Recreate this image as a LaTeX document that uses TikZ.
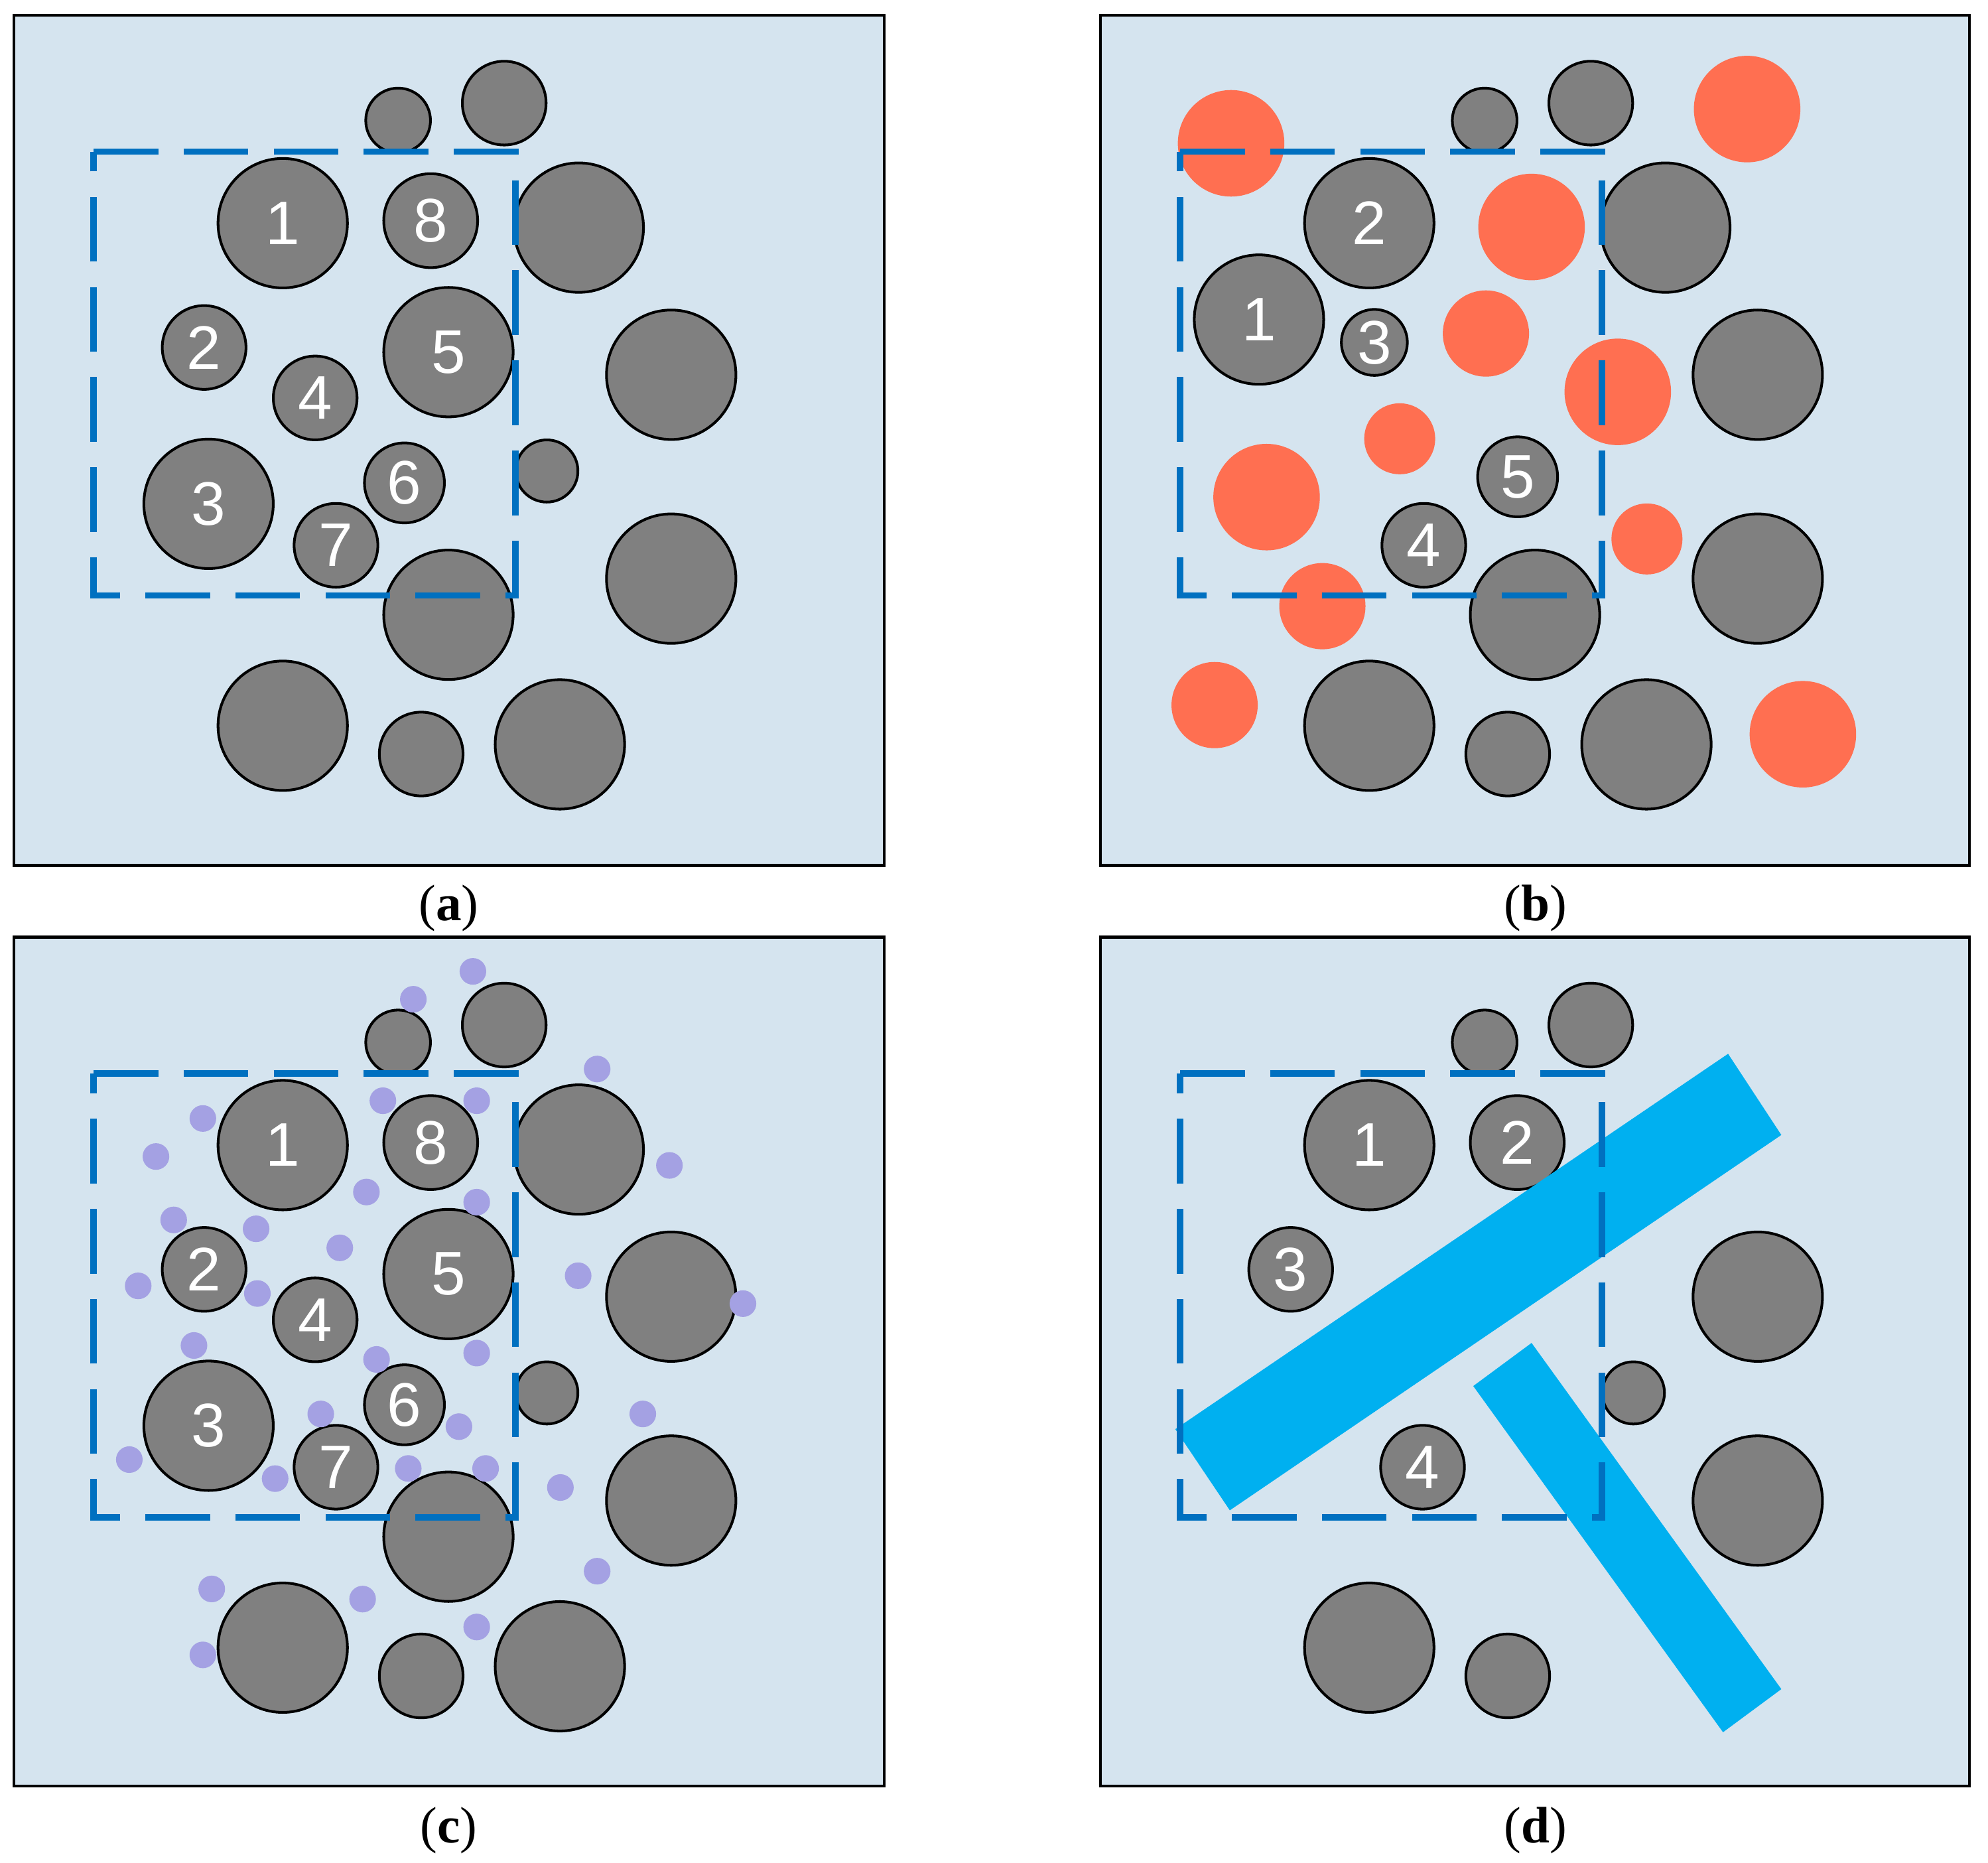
\documentclass[tikz,border=0pt]{standalone}
\usepackage{fontspec}
\setmainfont{Liberation Serif}
\newfontfamily\arialfont{Liberation Sans}
\definecolor{bgblue}{RGB}{213,228,239}
\definecolor{graingray}{RGB}{128,128,128}
\definecolor{redc}{RGB}{255,111,81}
\definecolor{dotc}{RGB}{164,161,227}
\definecolor{barc}{RGB}{0,176,240}
\definecolor{dashc}{RGB}{0,112,192}
\tikzset{
  panelbox/.style={draw=black, line width=0.65pt, fill=bgblue},
  grainsty/.style={circle, draw=black, line width=0.6pt, fill=graingray, inner sep=0pt,
    text=white, font=\arialfont\fontsize{13.8}{14}\selectfont},
  dashbox/.style={draw=dashc, line width=1.45pt, dash pattern=on 5.1mm off 2mm},
  redsty/.style={fill=redc},
  dotsty/.style={fill=dotc},
  barsty/.style={fill=barc},
  capsty/.style={anchor=base, font=\fontsize{11.5}{13}\selectfont, inner sep=0pt}
}
\newcommand\grain[5]{\node[grainsty, minimum size=#4*0.02cm] (#1) at (#2,#3) {#5};}
\newcommand\dashrect[1]{%
  \coordinate (#1tl) at (73.8,119.6);
  \coordinate (#1tr) at (406.5,119.6);
  \coordinate (#1br) at (406.5,469.6);
  \coordinate (#1bl) at (73.8,469.6);
  \draw[dashbox] (#1tl) -- (#1tr) -- (#1br) -- (#1bl) -- cycle;}
\newcommand\grainsA[1]{%
  \grain{#1st}{314}{95}{25.5}{}
  \grain{#1tp}{397.7}{81.3}{33}{}
  \grain{#1g1}{223}{176}{51}{1}
  \grain{#1g8}{339.7}{174}{37}{8}
  \grain{#1br}{456.5}{179.5}{51}{}
  \grain{#1g2}{161}{274}{33}{2}
  \grain{#1g5}{353.7}{277.7}{51}{5}
  \grain{#1g4}{248.6}{313.8}{33}{4}
  \grain{#1rr}{529.4}{295.5}{51}{}
  \grain{#1sm}{431.3}{371.4}{24.5}{}
  \grain{#1g6}{319}{380.8}{31.5}{6}
  \grain{#1g3}{164.5}{397.3}{51}{3}
  \grain{#1g7}{265}{430}{33}{7}
  \grain{#1rt}{529.4}{456.3}{51}{}
  \grain{#1bm}{353.7}{484.8}{51}{}
  \grain{#1bl}{223}{572.3}{51}{}
  \grain{#1bs}{332.2}{594.6}{33}{}
  \grain{#1bb}{441.6}{587}{51}{}}
\begin{document}
\begin{tikzpicture}[x=0.01cm, y=-0.01cm]
\useasboundingbox[fill=white] (0,0) rectangle (1568,1469);
% panels
\draw[panelbox] (11,12) rectangle (697.5,682.5);
\draw[panelbox] (868,12) rectangle (1553.5,682.5);
\draw[panelbox] (11,739) rectangle (697.5,1408.5);
\draw[panelbox] (868,739) rectangle (1553.5,1408.5);
% (a)
\grainsA{a}
\dashrect{a}
% (b)
\begin{scope}[shift={(857,0)}]
  \grain{bst}{314}{95}{25.5}{}
  \grain{btp}{397.7}{81.3}{33}{}
  \grain{bbr}{456.5}{179.5}{51}{}
  \grain{brr}{529.4}{295.5}{51}{}
  \grain{brt}{529.4}{456.3}{51}{}
  \grain{bbm}{353.7}{484.8}{51}{}
  \grain{bbl}{223}{572.3}{51}{}
  \grain{bbs}{332.2}{594.6}{33}{}
  \grain{bbb}{441.6}{587}{51}{}
  \grain{bg2}{223}{176}{51}{2}
  \grain{bg1}{136}{252}{51}{1}
  \grain{bg3}{227}{270}{26}{3}
  \grain{bg5}{340}{376}{31.5}{5}
  \grain{bg4}{266}{430}{33}{4}
  \foreach \px/\py/\pr in {114/113/42, 521/86/42, 351/179/42, 315/263/34, 419/309/42,
      247/346/28, 142/392/42, 442/425/28, 186/478/34, 101/556/34, 565/579/42}
    \fill[redsty] (\px,\py) circle[radius=\pr];
  \dashrect{b}
\end{scope}
% (c)
\begin{scope}[shift={(0,727)}]
  \grainsA{c}
\end{scope}
\foreach \px/\py in {373/766, 326/788, 471/843, 160/882, 123/912, 302/868, 376/868,
    528/919, 289/940, 376/948, 137/962, 202/969, 268/984, 109/1014, 203/1020,
    456/1006, 586/1028, 153/1061, 297/1072, 376/1067, 253/1115, 362/1125,
    507/1115, 102/1151, 217/1166, 322/1158, 383/1158, 442/1173, 471/1239,
    167/1253, 286/1261, 376/1283, 160/1305}
  \fill[dotsty] (\px,\py) circle[radius=10.5];
\begin{scope}[shift={(0,727)}]
  \dashrect{c}
\end{scope}
% (d)
\begin{scope}[shift={(857,727)}]
  \grain{dst}{314}{95}{25.5}{}
  \grain{dtp}{397.7}{81.3}{33}{}
  \grain{dg1}{223}{176}{51}{1}
  \grain{dg2}{339.7}{174}{37}{2}
  \grain{dg3}{161}{274}{33}{3}
  \grain{drr}{529.4}{295.5}{51}{}
  \grain{dsm}{431.3}{371.4}{24.5}{}
  \grain{dg4}{265}{430}{33}{4}
  \grain{drt}{529.4}{456.3}{51}{}
  \grain{dbl}{223}{572.3}{51}{}
  \grain{dbs}{332.2}{594.6}{33}{}
  \fill[barsty] (70,400) -- (113,464) -- (548,168) -- (506,104) -- cycle;
  \fill[barsty] (305,366) -- (351,332) -- (548,605) -- (502,639) -- cycle;
  \dashrect{d}
\end{scope}
% captions
\node[capsty] (capa) at (354,726) {(\textbf{a})};
\node[capsty] (capb) at (1211,726) {(\textbf{b})};
\node[capsty] (capc) at (354,1453) {(\textbf{c})};
\node[capsty] (capd) at (1211,1453) {(\textbf{d})};
\end{tikzpicture}
\end{document}
